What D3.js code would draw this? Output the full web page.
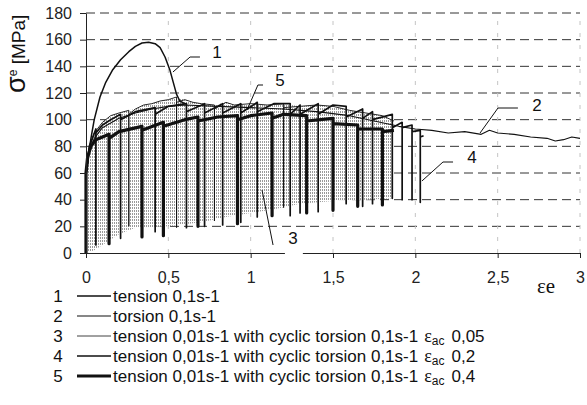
<!DOCTYPE html>
<html>
<head>
<meta charset="utf-8">
<script src="https://cdn.jsdelivr.net/npm/d3@7"></script>
<style>
  body { margin: 0; background: #fff; }
  svg { display: block; font-family: "Liberation Sans", Arial, sans-serif; }
</style>
</head>
<body>
<svg id="chart" width="587" height="405"></svg>
<script>
const xTicks = [0, 0.5, 1, 1.5, 2, 2.5, 3]
const xTickLabels = ['0', '0,5', '1', '1,5', '2', '2,5', '3']
const yTicks = [0, 20, 40, 60, 80, 100, 120, 140, 160, 180]

// 1: tension 0,1s-1
const tension01 = [[0, 0], [0, 58], [0.01, 70], [0.03, 86], [0.05, 100], [0.085, 117], [0.12, 128], [0.16, 137],
  [0.21, 145], [0.26, 151], [0.3, 155], [0.34, 157.5], [0.38, 158], [0.42, 157], [0.45, 154], [0.48, 147],
  [0.51, 137], [0.53, 128], [0.55, 119], [0.57, 114], [0.6, 112]]

// 2: torsion 0,1s-1
const torsion01 = [[0, 58], [0.02, 75], [0.05, 86], [0.1, 94], [0.2, 101], [0.3, 105], [0.4, 108], [0.5, 110],
  [0.6, 111], [0.8, 110], [1.0, 109], [1.2, 108], [1.4, 106], [1.6, 103], [1.75, 99], [1.9, 95], [2.0, 93],
  [2.1, 92], [2.2, 90], [2.3, 91], [2.4, 89], [2.45, 92], [2.5, 90], [2.6, 89], [2.7, 87], [2.8, 86],
  [2.85, 84], [2.9, 85], [2.95, 87], [3.0, 86]]

// 3: cyclic torsion eac 0,05 (dense cycles -> shaded band)
const cyc005Top = [[0, 58], [0.02, 78], [0.05, 90], [0.1, 98], [0.15, 103], [0.2, 105], [0.26, 107], [0.3, 108],
  [0.35, 111], [0.4, 112], [0.45, 114], [0.5, 115], [0.55, 117], [0.6, 115], [0.65, 113], [0.7, 112],
  [0.78, 111], [0.85, 113], [0.9, 111], [1.0, 112], [1.1, 111], [1.2, 112], [1.3, 110], [1.4, 111],
  [1.5, 110], [1.6, 107], [1.7, 105], [1.8, 103], [1.87, 99]]
const cyc005Bottom = [[0, 0], [0.05, 2], [0.1, 6], [0.2, 14], [0.3, 19], [0.5, 20], [0.7, 23], [0.85, 27],
  [1.0, 30], [1.15, 33], [1.3, 37], [1.5, 39], [1.7, 40], [1.87, 41]]
const cyc005Drops = [[0.26, 20, 104], [0.55, 19, 113], [0.78, 24, 108], [1.2, 34, 109]]

// 4: cyclic torsion eac 0,2  (drops: x, minimum, reload level)
const cyc02Top = [[0, 58], [0.02, 80], [0.06, 93], [0.1, 96], [0.15, 100], [0.21, 104], [0.3, 106], [0.42, 109],
  [0.5, 110], [0.61, 112], [0.72, 112], [0.83, 112], [0.94, 112], [1.04, 113], [1.14, 112], [1.24, 112],
  [1.30, 111], [1.41, 112], [1.50, 111], [1.58, 110], [1.68, 108], [1.74, 106], [1.86, 104], [1.92, 98],
  [1.98, 96], [2.03, 92], [2.05, 88]]
const cyc02Drops = [[0.06, 6, 90], [0.21, 11, 100], [0.42, 16, 104], [0.61, 19, 106], [0.72, 20, 105],
  [0.83, 21, 105], [0.94, 23, 105], [1.04, 27, 106], [1.24, 28, 104], [1.30, 30, 104], [1.41, 31, 104],
  [1.58, 37, 102], [1.68, 35, 101], [1.74, 37, 100], [1.86, 41, 94], [1.92, 40, 94], [1.98, 40, 91],
  [2.03, 38, 87]]

// 5: cyclic torsion eac 0,4
const cyc04Top = [[0, 0], [0, 60], [0.01, 72], [0.03, 80], [0.06, 85], [0.14, 89], [0.2, 91], [0.34, 95],
  [0.47, 98], [0.6, 100], [0.68, 102], [0.8, 102], [0.92, 103], [1.0, 103], [1.13, 105], [1.2, 104],
  [1.34, 103], [1.5, 101], [1.65, 96], [1.8, 93], [1.87, 92]]
const cyc04Drops = [[0.14, 7, 86], [0.34, 12, 92], [0.47, 13, 95], [0.68, 20, 99], [0.92, 22, 100],
  [1.13, 28, 101], [1.34, 30, 99], [1.50, 32, 97], [1.65, 35, 93], [1.80, 36, 91]]

const legendNumbers = ['1', '2', '3', '4', '5']
const legendLabels = ['tension 0,1s-1', 'torsion 0,1s-1',
  'tension 0,01s-1 with cyclic torsion 0,1s-1',
  'tension 0,01s-1 with cyclic torsion 0,1s-1',
  'tension 0,01s-1 with cyclic torsion 0,1s-1']
const legendAmplitudes = ['', '', '0,05', '0,2', '0,4']
const legendWidths = [1.4, 1.2, 0.8, 1.5, 2.8]

const svg = d3.select('#chart')
const x = d3.scaleLinear().domain([0, 3]).range([86, 580])
const y = d3.scaleLinear().domain([0, 180]).range([253, 13])

const line = d3.line().x(d => x(d[0])).y(d => y(d[1]))

function withDrops(top, drops) {
  let pts = []
  for (let p of top) {
    pts.push(p)
    let d = drops.find(dr => dr[0] === p[0])
    if (d) {
      pts.push([d[0], d[1]])
      pts.push([d[0], d[2]])
    }
  }
  return pts
}

// stipple pattern for the dense cycles of curve 3
const pat = svg.append('defs').append('pattern')
  .attr('id', 'stipple')
  .attr('patternUnits', 'userSpaceOnUse')
  .attr('width', 2).attr('height', 3)
pat.append('rect').attr('width', 2).attr('height', 3).attr('fill', '#fff')
pat.append('rect').attr('width', 1).attr('height', 2).attr('fill', '#9a9a9a')

// grid
svg.append('g').selectAll('line')
  .data(yTicks.slice(1))
  .join('line')
    .attr('x1', x(0)).attr('x2', x(3))
    .attr('y1', d => y(d)).attr('y2', d => y(d))
    .attr('stroke', '#333')
    .attr('stroke-dasharray', '9,5')
svg.append('g').selectAll('line')
  .data(xTicks.slice(1))
  .join('line')
    .attr('x1', d => x(d)).attr('x2', d => x(d))
    .attr('y1', y(0)).attr('y2', y(180))
    .attr('stroke', '#c4c4c4')
    .attr('stroke-dasharray', '4,8')

// shaded band
svg.append('path')
  .attr('d', line(cyc005Top.concat(cyc005Bottom.slice().reverse())) + 'Z')
  .attr('fill', 'url(#stipple)')

const curves = [
  { pts: withDrops(cyc005Top, cyc005Drops), w: 0.9 },
  { pts: torsion01, w: 1.1 },
  { pts: tension01, w: 1.5 },
  { pts: withDrops(cyc02Top, cyc02Drops), w: 1.7 },
  { pts: withDrops(cyc04Top, cyc04Drops), w: 3.2 }
]
for (let c of curves) {
  svg.append('path')
    .datum(c.pts)
    .attr('fill', 'none')
    .attr('stroke', '#111')
    .attr('stroke-width', c.w)
    .attr('stroke-linejoin', 'round')
    .attr('d', line)
}

// axes
const yAxis = svg.append('g')
  .attr('transform', `translate(${x(0)},0)`)
  .call(d3.axisLeft(y).tickValues(yTicks).tickSize(6).tickSizeOuter(0).tickPadding(8))
const xAxis = svg.append('g')
  .attr('transform', `translate(0,${y(0)})`)
  .call(d3.axisBottom(x).tickValues(xTicks).tickFormat((d, i) => xTickLabels[i])
    .tickSize(5).tickSizeOuter(0).tickPadding(14))
for (let ax of [xAxis, yAxis]) {
  ax.selectAll('path, line').attr('stroke', '#222')
  ax.selectAll('text').attr('font-size', 16).attr('fill', '#222')
    .attr('font-family', '"Liberation Sans", Arial, sans-serif')
}

// white box behind label 3 breaks the axis line
svg.append('rect')
  .attr('x', x(1.208)).attr('width', x(1.317) - x(1.208))
  .attr('y', y(4.5)).attr('height', y(-4.5) - y(4.5))
  .attr('fill', '#fff')

// curve labels with leaders
const annotations = [
  { label: '1', leader: [[0.528, 135.75], [0.632, 147], [0.692, 147]], at: [0.795, 146] },
  { label: '5', leader: [[0.978, 107.25], [1.044, 126], [1.075, 126]], at: [1.178, 125] },
  { label: '2', leader: [[2.393, 90], [2.502, 108.75], [2.623, 108.75]], at: [2.739, 106.5] },
  { label: '4', leader: [[2.040, 54], [2.168, 68.25], [2.229, 68.25]], at: [2.344, 67.5] },
  { label: '3', leader: [[1.069, 47.25], [1.136, 6]], at: [1.257, 6.75] }
]
for (let a of annotations) {
  svg.append('path').attr('d', line(a.leader)).attr('fill', 'none')
    .attr('stroke', '#111').attr('stroke-width', 1)
  svg.append('text').attr('x', x(a.at[0])).attr('y', y(a.at[1]))
    .attr('text-anchor', 'middle').attr('font-size', 17).attr('fill', '#111')
    .text(a.label)
}

// axis titles
const yTitle = svg.append('text')
  .attr('transform', 'translate(25,93) rotate(-90)')
  .attr('fill', '#111')
yTitle.append('tspan').attr('font-size', 27).text('σ')
yTitle.append('tspan').attr('font-size', 12).attr('dy', -8).text('e')
yTitle.append('tspan').attr('font-size', 19).attr('dy', 8).text(' [MPa]')

svg.append('text')
  .attr('x', 537).attr('y', 293)
  .attr('font-family', '"Liberation Serif", "Times New Roman", serif')
  .attr('font-size', 21).attr('fill', '#111')
  .text('εe')

// legend
const legend = svg.append('g').attr('font-size', 17).attr('fill', '#111')
legendLabels.forEach((lab, i) => {
  let cy = 296 + i * 20
  legend.append('text').attr('x', 58).attr('y', cy + 6).attr('text-anchor', 'middle').text(legendNumbers[i])
  legend.append('line').attr('x1', 77).attr('x2', 111).attr('y1', cy).attr('y2', cy)
    .attr('stroke', '#111').attr('stroke-width', legendWidths[i])
  let t = legend.append('text').attr('x', 113).attr('y', cy + 6)
  t.append('tspan').text(lab)
  if (legendAmplitudes[i]) {
    t.append('tspan').attr('dx', 6)
      .attr('font-family', '"Liberation Serif", "Times New Roman", serif').attr('font-size', 18).text('ε')
    t.append('tspan').attr('font-size', 12).attr('dy', 3).text('ac')
    t.append('tspan').attr('dx', 7).attr('dy', -3).text(legendAmplitudes[i])
  }
})
</script>
</body>
</html>
